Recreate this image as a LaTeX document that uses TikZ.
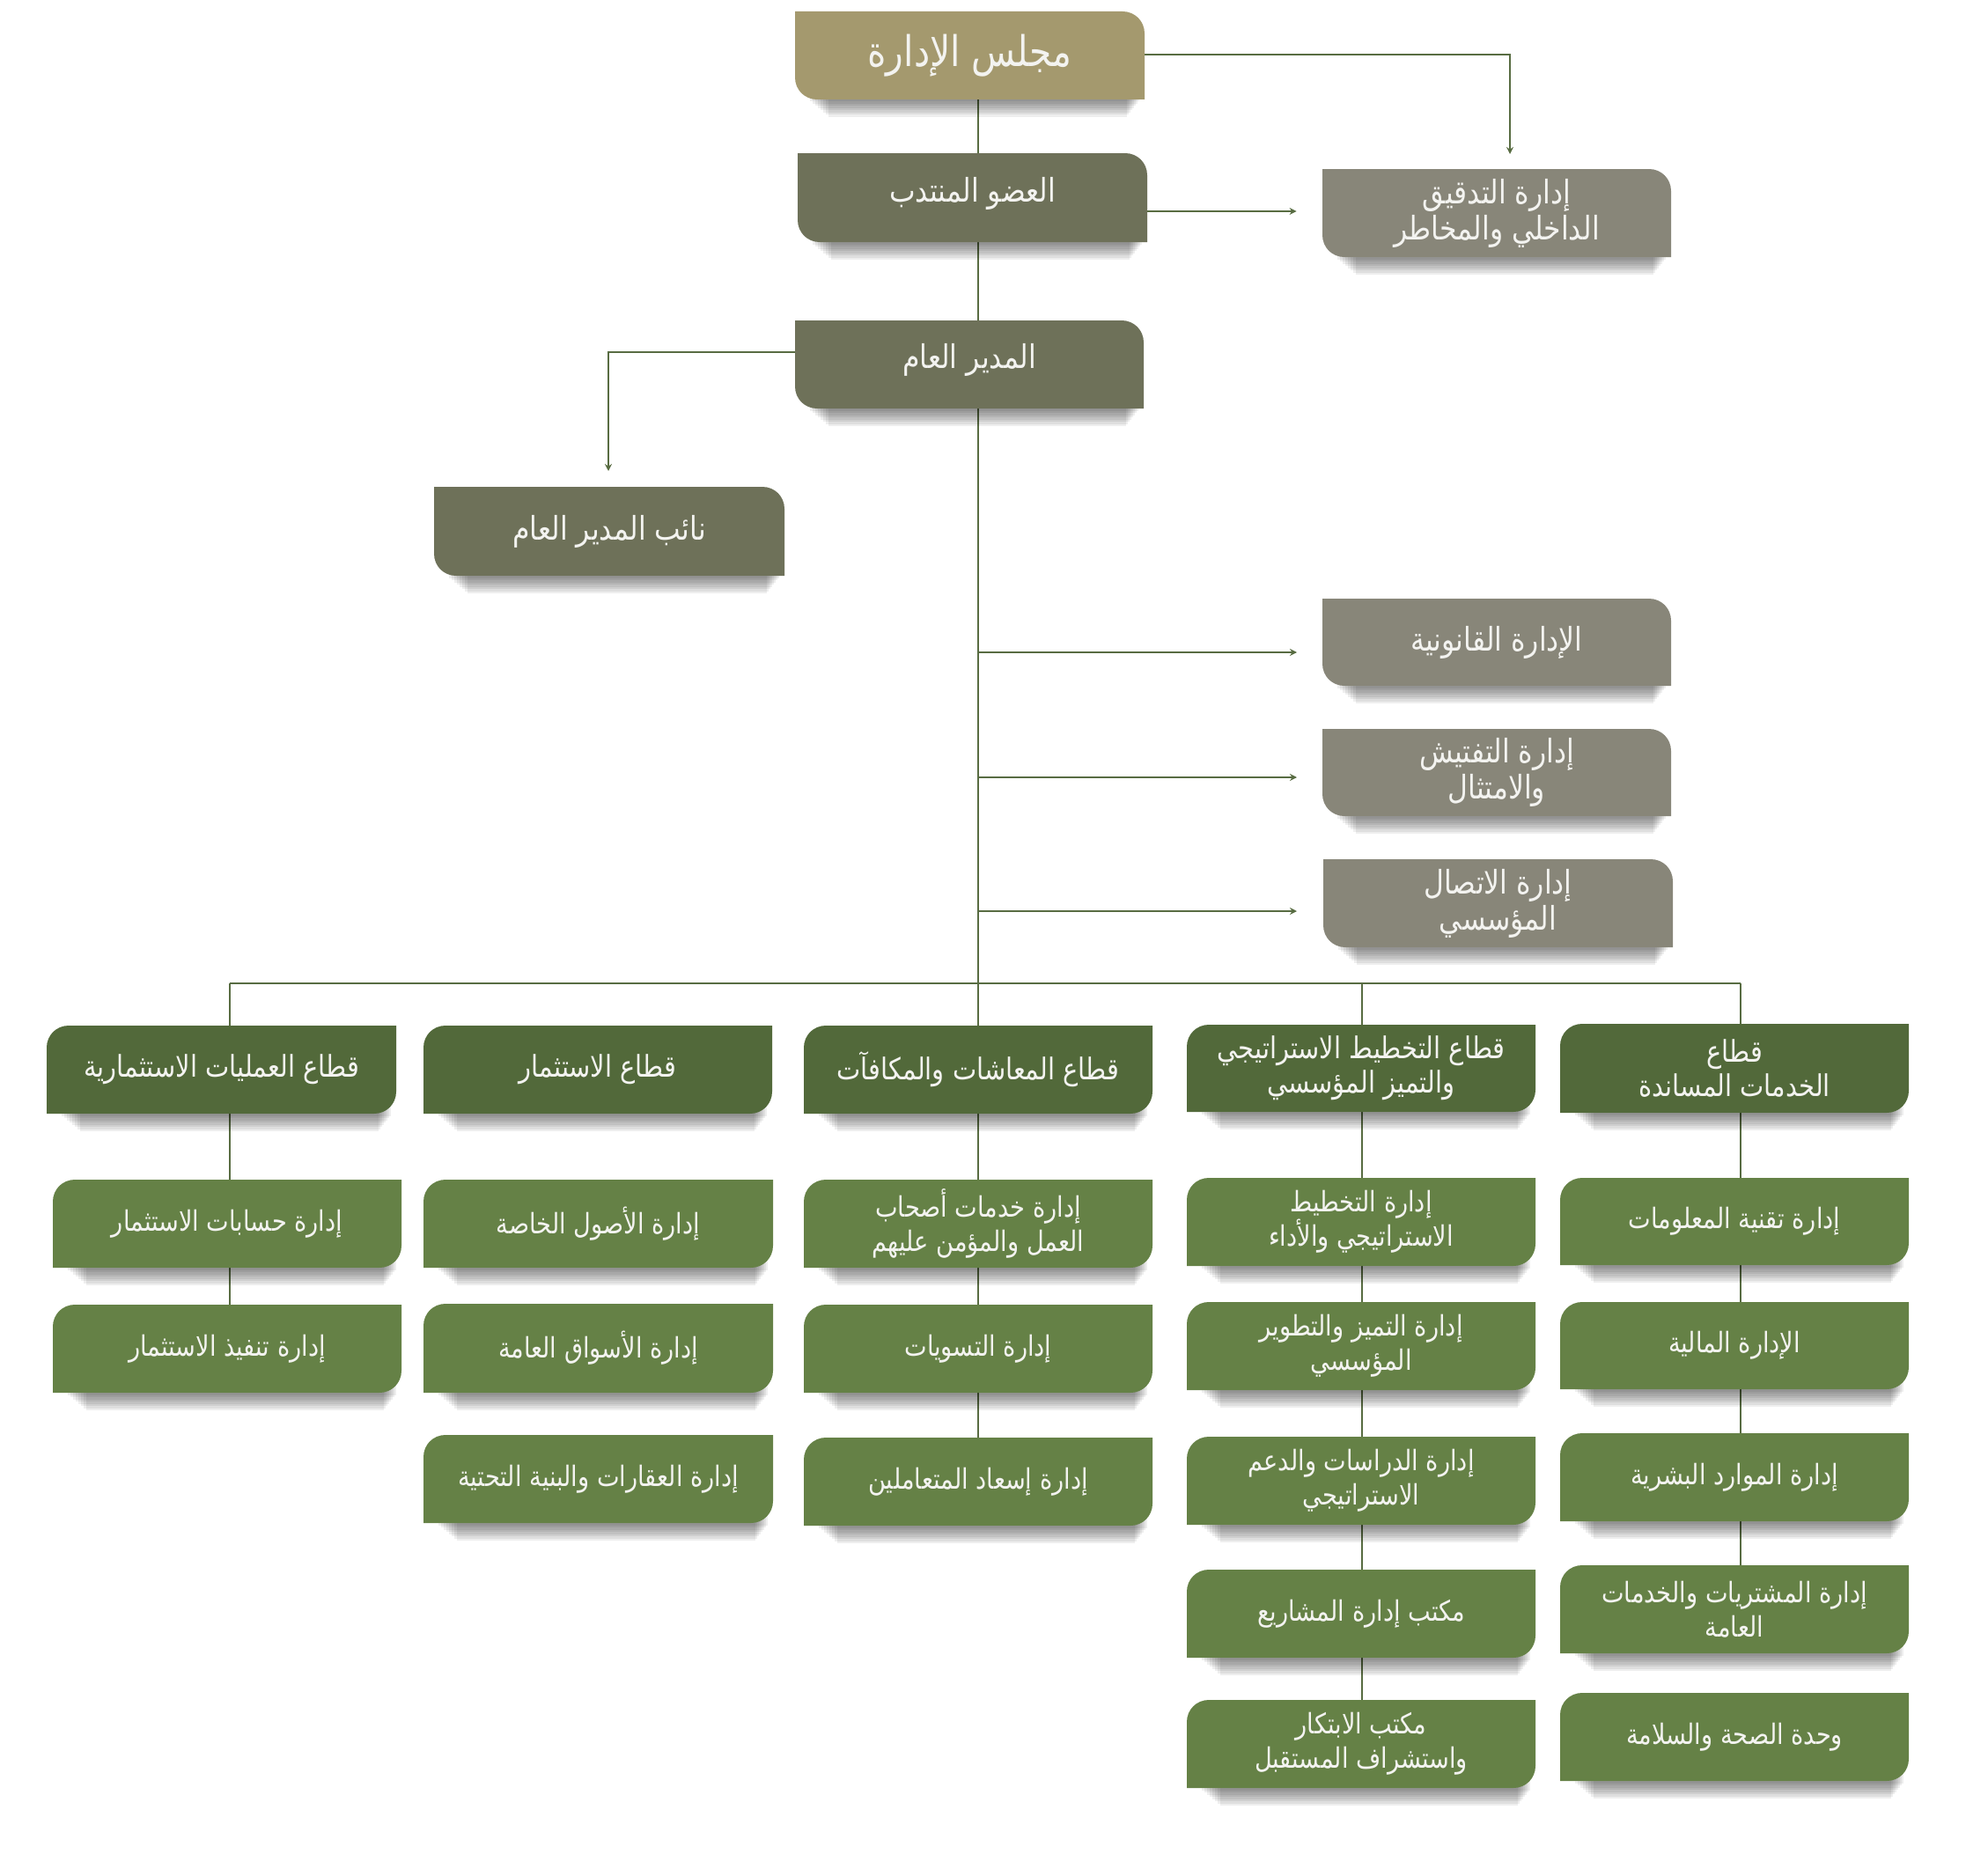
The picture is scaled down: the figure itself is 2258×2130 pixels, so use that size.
\documentclass[tikz,border=0pt]{standalone}
\usepackage{fontspec}
\TeXXeTstate=1
\newfontfamily\arabicfont[Script=Arabic,FakeStretch=0.85]{DejaVu Sans}
\usetikzlibrary{arrows.meta}
\definecolor{tanc}{RGB}{164,153,110}
\definecolor{olivec}{RGB}{110,113,89}
\definecolor{grayc}{RGB}{136,134,121}
\definecolor{secc}{RGB}{82,105,58}
\definecolor{subc}{RGB}{101,129,70}
\definecolor{linec}{RGB}{88,108,66}
\definecolor{txtc}{RGB}{243,243,240}
\pgfdeclarelayer{bg}
\pgfsetlayers{bg,main}
\newcommand\ar[1]{\beginR #1\endR}
\newcommand\shadowband[4]{%
  \foreach \k in {1,...,8}{%
    \fill[black,opacity=0.065] ({#1+14+3*\k},{#4-20}) rectangle ({#3-4-2*\k},{#4+2.5*\k});
  }}
\newcommand\topbox[8]{%
  \shadowband{#2}{#3}{#4}{#5}
  \fill[#6] (#2,#3) -- ({#4-25},#3) .. controls ({#4-11},#3) and (#4,{#3+11}) .. (#4,{#3+25}) -- (#4,#5) -- ({#2+25},#5) .. controls ({#2+11},#5) and (#2,{#5-11}) .. (#2,{#5-25}) -- cycle;
  \node[boxtext,toptext,#7,minimum width={(#4-#2)*0.5pt},minimum height={(#5-#3)*0.5pt}] (#1) at ({(#2+#4)/2},{(#3+#5)/2}) {#8};}
\newcommand\secbox[8]{%
  \shadowband{#2}{#3}{#4}{#5}
  \fill[#6] ({#2+25},#3) -- (#4,#3) -- (#4,{#5-25}) .. controls (#4,{#5-11}) and ({#4-11},#5) .. ({#4-25},#5) -- (#2,#5) -- (#2,{#3+25}) .. controls (#2,{#3+11}) and ({#2+11},#3) .. cycle;
  \node[boxtext,#7,minimum width={(#4-#2)*0.5pt},minimum height={(#5-#3)*0.5pt}] (#1) at ({(#2+#4)/2},{(#3+#5)/2}) {#8};}
\tikzset{
  boxtext/.style={shape=rectangle,inner sep=0pt,align=center,text=txtc,font=\arabicfont\fontsize{16}{19.5}\selectfont},
  toptext/.style={font=\arabicfont\fontsize{18.5}{20.5}\selectfont},
  sectext/.style={font=\arabicfont\fontsize{17}{19.5}\selectfont},
  bigtext/.style={font=\arabicfont\fontsize{24}{28}\selectfont},
  up/.style={yshift=2.5pt},
  conn/.style={draw=linec,line width=0.8pt},
  arr/.style={conn,-{Stealth[length=4pt,width=4pt]}}
}
\begin{document}
\begin{tikzpicture}[x=0.5pt,y=-0.5pt]
\useasboundingbox (0,0) rectangle (2258,2130);
% top level
\topbox{board}{903}{13}{1300}{113}{tanc}{bigtext}{\ar{مجلس الإدارة}}
\topbox{exec}{906}{174}{1303}{275}{olivec}{up}{\ar{العضو المنتدب}}
\topbox{gm}{903}{364}{1299}{464}{olivec}{up}{\ar{المدير العام}}
\topbox{deputy}{493}{553}{891}{654}{olivec}{}{\ar{نائب المدير العام}}
\topbox{audit}{1502}{192}{1898}{292}{grayc}{}{\ar{إدارة التدقيق}\\\ar{الداخلي والمخاطر}}
\topbox{legal}{1502}{680}{1898}{779}{grayc}{}{\ar{الإدارة القانونية}}
\topbox{inspect}{1502}{828}{1898}{927}{grayc}{}{\ar{إدارة التفتيش}\\\ar{والامتثال}}
\topbox{comms}{1503}{976}{1900}{1076}{grayc}{}{\ar{إدارة الاتصال}\\\ar{المؤسسي}}
% sectors
\secbox{s1}{53}{1165}{450}{1265}{secc}{sectext}{\ar{قطاع العمليات الاستثمارية}}
\secbox{s2}{481}{1165}{877}{1265}{secc}{sectext}{\ar{قطاع الاستثمار}}
\secbox{s3}{913}{1165}{1309}{1265}{secc}{sectext}{\ar{قطاع المعاشات والمكافآت}}
\secbox{s4}{1348}{1164}{1744}{1263}{secc}{sectext}{\ar{قطاع التخطيط الاستراتيجي}\\\ar{والتميز المؤسسي}}
\secbox{s5}{1772}{1163}{2168}{1264}{secc}{sectext}{\ar{قطاع}\\\ar{الخدمات المساندة}}
% column 1
\secbox{c1b1}{60}{1340}{456}{1440}{subc}{}{\ar{إدارة حسابات الاستثمار}}
\secbox{c1b2}{60}{1482}{456}{1582}{subc}{}{\ar{إدارة تنفيذ الاستثمار}}
% column 2
\secbox{c2b1}{481}{1340}{878}{1440}{subc}{}{\ar{إدارة الأصول الخاصة}}
\secbox{c2b2}{481}{1481}{878}{1582}{subc}{}{\ar{إدارة الأسواق العامة}}
\secbox{c2b3}{481}{1630}{878}{1730}{subc}{}{\ar{إدارة العقارات والبنية التحتية}}
% column 3
\secbox{c3b1}{913}{1340}{1309}{1440}{subc}{}{\ar{إدارة خدمات أصحاب}\\\ar{العمل والمؤمن عليهم}}
\secbox{c3b2}{913}{1482}{1309}{1582}{subc}{}{\ar{إدارة التسويات}}
\secbox{c3b3}{913}{1633}{1309}{1733}{subc}{}{\ar{إدارة إسعاد المتعاملين}}
% column 4
\secbox{c4b1}{1348}{1338}{1744}{1438}{subc}{}{\ar{إدارة التخطيط}\\\ar{الاستراتيجي والأداء}}
\secbox{c4b2}{1348}{1479}{1744}{1579}{subc}{}{\ar{إدارة التميز والتطوير}\\\ar{المؤسسي}}
\secbox{c4b3}{1348}{1632}{1744}{1732}{subc}{}{\ar{إدارة الدراسات والدعم}\\\ar{الاستراتيجي}}
\secbox{c4b4}{1348}{1783}{1744}{1883}{subc}{}{\ar{مكتب إدارة المشاريع}}
\secbox{c4b5}{1348}{1931}{1744}{2031}{subc}{}{\ar{مكتب الابتكار}\\\ar{واستشراف المستقبل}}
% column 5
\secbox{c5b1}{1772}{1338}{2168}{1437}{subc}{}{\ar{إدارة تقنية المعلومات}}
\secbox{c5b2}{1772}{1479}{2168}{1578}{subc}{}{\ar{الإدارة المالية}}
\secbox{c5b3}{1772}{1628}{2168}{1728}{subc}{}{\ar{إدارة الموارد البشرية}}
\secbox{c5b4}{1772}{1778}{2168}{1878}{subc}{}{\ar{إدارة المشتريات والخدمات}\\\ar{العامة}}
\secbox{c5b5}{1772}{1923}{2168}{2023}{subc}{}{\ar{وحدة الصحة والسلامة}}
% junction coordinates
\coordinate (mx) at (1111,0);
\coordinate (a1) at (1715,175);
\coordinate (gmL) at (903,400);
\coordinate (dtip) at (691,535);
\coordinate (r1) at (1473,741);
\coordinate (r2) at (1473,883);
\coordinate (r3) at (1473,1035);
\coordinate (b1) at (261,1117);
\coordinate (b4) at (1547,1117);
\coordinate (b5) at (1977,1117);
\begin{pgfonlayer}{bg}
\draw[conn] (board.south -| mx) -- (c3b3.north -| mx);
\draw[arr] (board.east |- 0,62) -| (a1);
\draw[arr,shorten >=14.5pt] (exec.east |- 0,240) -- (audit.west |- 0,240);
\draw[arr] (gmL) -| (dtip);
\draw[arr] (r1 -| mx) -- (r1);
\draw[arr] (r2 -| mx) -- (r2);
\draw[arr] (r3 -| mx) -- (r3);
\draw[conn] (b1) -- (b5);
\draw[conn] (b1) -- (b1 |- c1b2.north);
\draw[conn] (b4) -- (b4 |- c4b5.north);
\draw[conn] (b5) -- (b5 |- c5b4.north);
\end{pgfonlayer}
\end{tikzpicture}
\end{document}
